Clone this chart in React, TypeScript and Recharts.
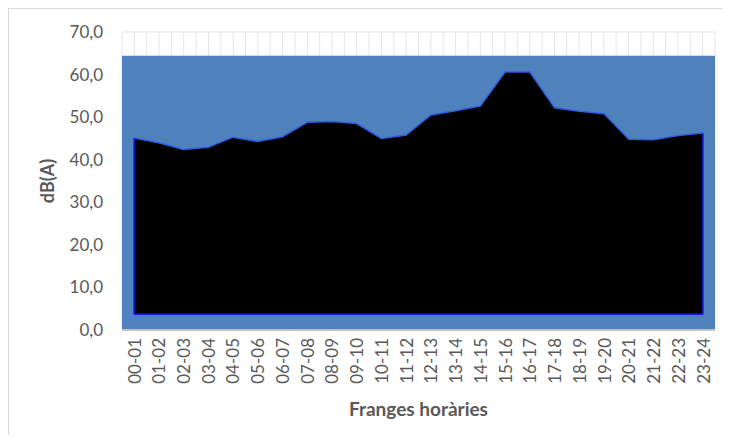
import React from 'react';
import {
  ComposedChart,
  Area,
  XAxis,
  YAxis,
  CartesianGrid,
  ReferenceArea,
  ReferenceLine,
} from 'recharts';

// franges horàries i nivell sonor mesurat (dB(A))
const HORES = [
  '00-01', '01-02', '02-03', '03-04', '04-05', '05-06', '06-07', '07-08',
  '08-09', '09-10', '10-11', '11-12', '12-13', '13-14', '14-15', '15-16',
  '16-17', '17-18', '18-19', '19-20', '20-21', '21-22', '22-23', '23-24',
];
const NIVELLS = [
  45.1, 44.0, 42.4, 42.9, 45.3, 44.3, 45.4, 48.8,
  49.0, 48.5, 45.0, 45.8, 50.5, 51.5, 52.6, 60.6,
  60.6, 52.2, 51.4, 50.8, 44.8, 44.7, 45.7, 46.3,
];
const Y_TICKS = [0, 10, 20, 30, 40, 50, 60, 70];
const FONS_MAX = 64.4; // límit superior del fons blau
const BASE = 3.7; // base de l'àrea negra

const data = HORES.map((hora, i) => ({ hora, nivell: NIVELLS[i] }));

const GREY = '#595959';
const EDGE = '#1a1aff';

const HoraTick = ({ x, y, payload }: { x: number; y: number; payload: { value: string } }) => (
  <g transform={`translate(${x},${y})`}>
    <text
      transform="rotate(-90)"
      x={-8}
      y={0}
      textAnchor="end"
      dominantBaseline="central"
      fill={GREY}
      fontSize={17}
    >
      {payload.value}
    </text>
  </g>
);

const EixYTitol = ({ viewBox }: any) => {
  const cx = viewBox.x + 38;
  const cy = viewBox.y + viewBox.height / 2;
  return (
    <text
      x={cx}
      y={cy}
      transform={`rotate(-90, ${cx}, ${cy})`}
      textAnchor="middle"
      dominantBaseline="central"
      fill={GREY}
      fontSize={18}
      fontWeight={700}
    >
      dB(A)
    </text>
  );
};

export default function App() {
  return (
    <div
      style={{
        width: 713,
        height: 426,
        borderTop: '1px solid #d9d9d9',
        borderLeft: '1px solid #d9d9d9',
        background: '#fff',
        fontFamily: 'Lato, sans-serif',
      }}
    >
      <ComposedChart
        width={713}
        height={426}
        data={data}
        margin={{ top: 23, right: 7, left: 0, bottom: 0 }}
      >
        <CartesianGrid
          stroke="#e6e6e6"
          verticalCoordinatesGenerator={({ offset }: any) =>
            Array.from({ length: 49 }, (_, k) => offset.left + (offset.width * k) / 48)
          }
        />
        <XAxis
          dataKey="hora"
          interval={0}
          height={105}
          padding={{ left: 12, right: 12 }}
          tickSize={0}
          tickMargin={0}
          tickLine={false}
          axisLine={{ stroke: '#c4c4c4', strokeWidth: 2 }}
          tick={(p: any) => <HoraTick {...p} />}
          label={{
            value: 'Franges horàries',
            position: 'insideBottom',
            offset: 19,
            fill: GREY,
            fontSize: 19,
            fontWeight: 700,
          }}
        />
        <XAxis xAxisId="fons" dataKey="hora" hide />
        <YAxis
          domain={[0, 70]}
          ticks={Y_TICKS}
          width={113}
          axisLine={false}
          tickLine={false}
          tickSize={0}
          tickMargin={19}
          tick={{ fill: GREY, fontSize: 17 }}
          tickFormatter={(v: number) => v.toFixed(1).replace('.', ',')}
          label={{ content: (p: any) => <EixYTitol {...p} /> }}
        />
        <ReferenceArea
          xAxisId="fons"
          y1={0}
          y2={FONS_MAX}
          fill="#4f81bd"
          fillOpacity={1}
          stroke="none"
          zIndex={50}
        />
        <Area
          type="linear"
          dataKey="nivell"
          baseValue={BASE}
          fill="#000000"
          fillOpacity={1}
          stroke="#2f5fe0"
          strokeWidth={1.5}
          dot={false}
          activeDot={false}
          isAnimationActive={false}
        />
        <ReferenceLine
          segment={[{ x: HORES[0], y: BASE }, { x: HORES[HORES.length - 1], y: BASE }]}
          stroke={EDGE}
          strokeWidth={1.5}
        />
        <ReferenceLine
          segment={[{ x: HORES[0], y: BASE }, { x: HORES[0], y: NIVELLS[0] }]}
          stroke={EDGE}
          strokeWidth={1.5}
        />
        <ReferenceLine
          segment={[
            { x: HORES[HORES.length - 1], y: BASE },
            { x: HORES[HORES.length - 1], y: NIVELLS[NIVELLS.length - 1] },
          ]}
          stroke={EDGE}
          strokeWidth={1.5}
        />
      </ComposedChart>
    </div>
  );
}
